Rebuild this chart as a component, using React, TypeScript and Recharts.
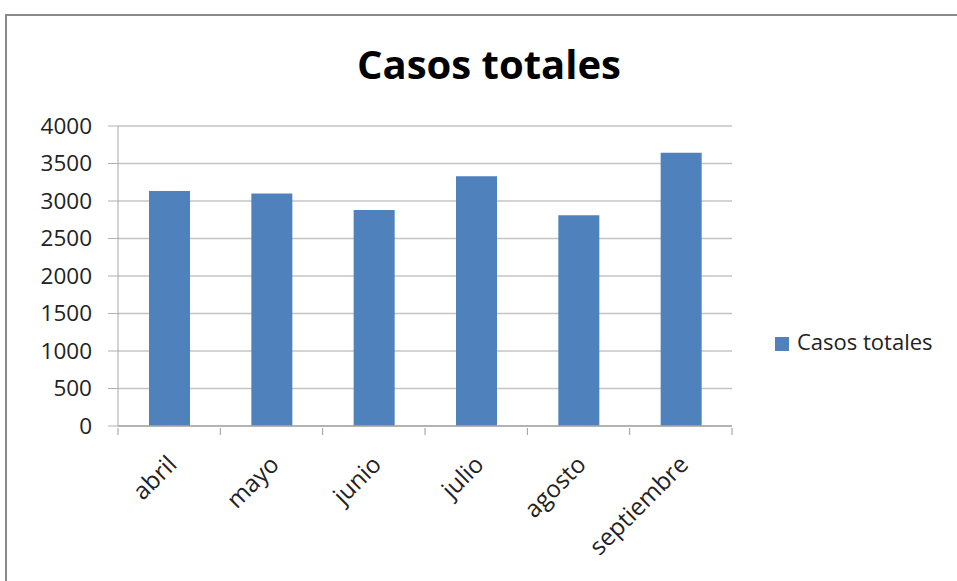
import React from 'react';
import { BarChart, Bar, XAxis, YAxis, CartesianGrid, Legend } from 'recharts';

const months = ['abril', 'mayo', 'junio', 'julio', 'agosto', 'septiembre'];
const casosTotales = [3135, 3100, 2880, 3330, 2810, 3645];
const yTicks = [0, 500, 1000, 1500, 2000, 2500, 3000, 3500, 4000];

const data = months.map((m, i) => ({ month: m, casos: casosTotales[i] }));

const FONT = '"Open Sans", sans-serif';

// category label, rotated, plus the small tick marks between categories
const MonthTick = (props: any) => {
  const { x, y, payload, index } = props;
  const half = payload && typeof payload.offset === 'number' ? payload.offset : 0;
  const last = index === months.length - 1;
  return (
    <g>
      {half > 0 && (
        <line x1={x - half} x2={x - half} y1={y - 6} y2={y + 1} stroke="#9a9a9a" />
      )}
      {half > 0 && last && (
        <line x1={x + half} x2={x + half} y1={y - 6} y2={y + 1} stroke="#9a9a9a" />
      )}
      <text
        x={0}
        y={0}
        transform={`translate(${x + 9},${y + 32}) rotate(-45)`}
        textAnchor="end"
        fontSize={24}
        fontFamily={FONT}
        fill="#222"
      >
        {payload.value}
      </text>
    </g>
  );
};

const App: React.FC = () => {
  return (
    <div style={{ position: 'absolute', left: 0, top: 0, width: 957, height: 581, overflow: 'hidden', background: '#fff' }}>
      <div
        style={{
          position: 'absolute',
          left: 5,
          top: 14,
          width: 1100,
          height: 800,
          border: '2px solid #8a8a8a',
          boxSizing: 'border-box',
        }}
      />
      <div
        style={{
          position: 'absolute',
          left: 0,
          width: 978,
          top: 36,
          textAlign: 'center',
          fontFamily: FONT,
          fontWeight: 700,
          fontSize: 40,
          color: '#000',
        }}
      >
        Casos totales
      </div>
      <div style={{ position: 'absolute', left: 0, top: 0 }}>
        <BarChart
          width={957}
          height={581}
          data={data}
          margin={{ top: 126, right: 35, bottom: 25, left: 28 }}
        >
          <CartesianGrid vertical={false} stroke="#c4c4c4" strokeWidth={1.5} />
          <XAxis
            dataKey="month"
            tickLine={false}
            tickSize={6}
            axisLine={{ stroke: '#a8a8a8', strokeWidth: 1.5 }}
            tick={<MonthTick />}
            interval={0}
            height={130}
          />
          <YAxis
            domain={[0, 4000]}
            ticks={yTicks}
            width={90}
            tickSize={10}
            tickMargin={16}
            tickLine={{ stroke: '#b0b0b0' }}
            axisLine={{ stroke: '#a8a8a8' }}
            tick={{ fontSize: 22.5, fontFamily: FONT, fill: '#222' }}
          />
          <Legend
            layout="vertical"
            align="right"
            verticalAlign="top"
            iconType="square"
            iconSize={14}
            width={190}
            wrapperStyle={{ left: 775, top: 326, width: 190, fontFamily: FONT, fontSize: 22 }}
            formatter={(v: string) => <span style={{ color: '#222', marginLeft: 4 }}>{v}</span>}
          />
          <Bar
            dataKey="casos"
            name="Casos totales"
            fill="#4f81bd"
            barSize={41}
            isAnimationActive={false}
          />
        </BarChart>
      </div>
    </div>
  );
};

export default App;
